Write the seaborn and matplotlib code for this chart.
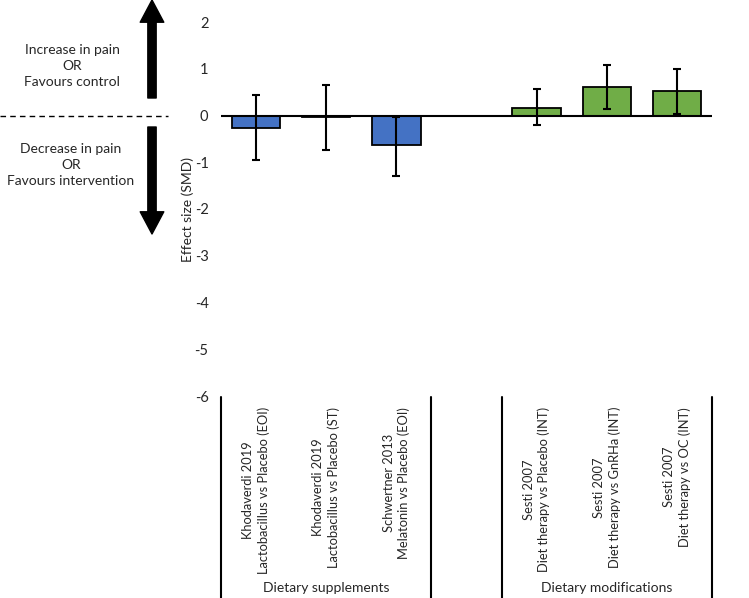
import numpy as np
import pandas as pd
import matplotlib
matplotlib.use("Agg")
import matplotlib.pyplot as plt
import matplotlib.transforms as mtransforms
from matplotlib.patches import FancyArrowPatch
from matplotlib.lines import Line2D
import seaborn as sns

# ---- data ----
studies = [
    "Khodaverdi 2019\nLactobacillus vs Placebo (EOI)",
    "Khodaverdi 2019\nLactobacillus vs Placebo (ST)",
    "Schwertner 2013\nMelatonin vs Placebo (EOI)",
    "Sesti 2007\nDiet therapy vs Placebo (INT)",
    "Sesti 2007\nDiet therapy vs GnRHa (INT)",
    "Sesti 2007\nDiet therapy vs OC (INT)",
]
groups = ["Dietary supplements", "Dietary supplements", "Dietary supplements",
          "Dietary modifications", "Dietary modifications", "Dietary modifications"]
smd = [-0.27, -0.03, -0.64, 0.17, 0.61, 0.52]
ci_low = [-0.96, -0.73, -1.30, -0.21, 0.13, 0.04]
ci_high = [0.43, 0.66, -0.03, 0.56, 1.07, 0.985]
order = studies[:3] + [" "] + studies[3:]
group_names = ["Dietary supplements", "Dietary modifications"]
yticks = [2, 1, 0, -1, -2, -3, -4, -5, -6]

df = pd.DataFrame({"study": studies, "group": groups, "smd": smd})

sns.set_theme(style="white")
plt.rcParams["font.family"] = ["Lato", "DejaVu Sans"]

W, H = 749, 598
fig = plt.figure(figsize=(W / 100, H / 100), dpi=100)
ax_left, ax_right = 221 / W, 712 / W
ax_top, ax_bot = 1 - 22 / H, 1 - 396 / H
ax = fig.add_axes([ax_left, ax_bot, ax_right - ax_left, ax_top - ax_bot])

palette = {"Dietary supplements": "#4472C4", "Dietary modifications": "#70AD47"}
sns.barplot(data=df, x="study", y="smd", hue="group", order=order,
            palette=palette, dodge=False, width=0.69, edgecolor="black",
            linewidth=1.3, ax=ax, legend=False, errorbar=None, saturation=1)

pos = [order.index(s) for s in studies]
lo = np.array(smd) - np.array(ci_low)
hi = np.array(ci_high) - np.array(smd)
ax.errorbar(pos, smd, yerr=[lo, hi], fmt="none", ecolor="black",
            elinewidth=1.5, capsize=3, capthick=1.5, zorder=5)

ax.axhline(0, color="black", lw=1.5, zorder=4)
ax.set_xlim(-0.5, len(order) - 0.5)
ax.set_ylim(-6, 2)
ax.set_yticks(yticks)
ax.set_yticklabels([str(t) for t in yticks], fontsize=10.5)
ax.tick_params(axis="y", length=0, pad=9)
ax.set_xticks([])
ax.set_xlabel("")
ax.set_ylabel("Effect size (SMD)", fontsize=10, labelpad=0)
for s in ax.spines.values():
    s.set_visible(False)

# category labels and separators below axes
blend = mtransforms.blended_transform_factory(ax.transData, ax.transAxes)
ax_h_px = 396 - 22
def ay(py):
    return (396 - py) / ax_h_px

for p, s in zip(pos, studies):
    ax.text(p, ay(407), s, rotation=90, ha="center", va="top",
            multialignment="center", fontsize=9.3, transform=blend,
            linespacing=1.3)

for xsep in [-0.5, 2.5, 3.5, 6.5]:
    ax.add_line(Line2D([xsep, xsep], [ay(397), ay(600)], transform=blend,
                       color="black", lw=1.5, clip_on=False))

for g in group_names:
    idx = [order.index(s) for s, gg in zip(studies, groups) if gg == g]
    xc = np.mean(idx)
    ax.text(xc, ay(588), g, ha="center", va="center", fontsize=10,
            transform=blend)

# left annotations
def fx(px):
    return px / W
def fy(py):
    return 1 - py / H

fig.add_artist(Line2D([fx(0), fx(168)], [fy(116), fy(116)], color="black",
                      lw=1, linestyle=(0, (4, 3)), transform=fig.transFigure))

style = "simple,head_length=1.6,head_width=1.7,tail_width=0.6"
for y0, y1 in [(98, 0), (127, 234)]:
    arr = FancyArrowPatch((fx(152), fy(y0)), (fx(152), fy(y1)),
                          transform=fig.transFigure, arrowstyle=style,
                          mutation_scale=10, color="black", shrinkA=0, shrinkB=0)
    fig.add_artist(arr)

fig.text(fx(72), fy(66), "Increase in pain\nOR\nFavours control",
         ha="center", va="center", fontsize=10, linespacing=1.4)
fig.text(fx(71), fy(165), "Decrease in pain\nOR\nFavours intervention",
         ha="center", va="center", fontsize=10, linespacing=1.4)

fig.savefig("out.png", dpi=100)
